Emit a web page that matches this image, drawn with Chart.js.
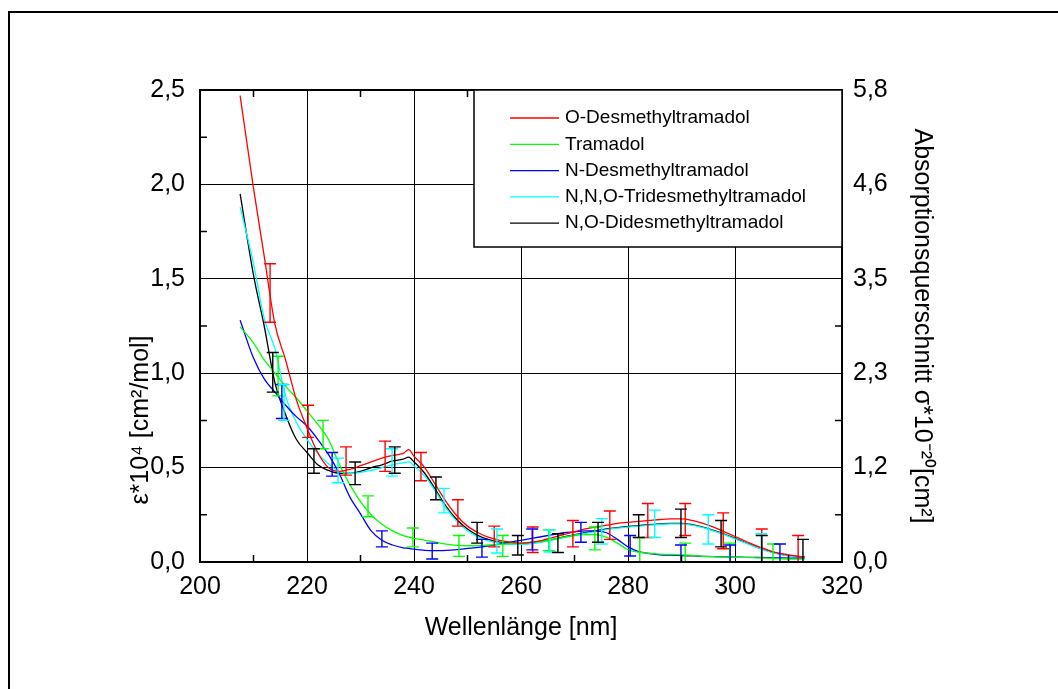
<!DOCTYPE html>
<html>
<head>
<meta charset="utf-8">
<title>UV-Spektren Tramadol</title>
<script src="https://cdn.jsdelivr.net/npm/chart.js@4.4.1/dist/chart.umd.min.js"></script>
<style>
    html, body { margin: 0; padding: 0; background: #fff; }
    #wrap { position: relative; width: 1058px; height: 689px; }
</style>
</head>
<body>
<div id="wrap"><canvas id="uvChart" width="1058" height="689"></canvas></div>
<script>
// wavelength grid [nm]
var wavelengths = [207.5, 210, 212, 214, 216, 218, 220, 222, 224, 226, 228, 230, 232, 234, 236, 238, 239,
    240, 242, 244, 246, 248, 250, 252, 254, 256, 258, 260, 262, 264, 266, 268, 270, 272, 274, 276, 278,
    280, 282, 284, 286, 288, 290, 292, 294, 296, 298, 300, 302, 304, 306, 308, 310, 312, 313];

// epsilon * 10^4 [cm^2/mol]
var oDesmethyl = [2.47, 1.98, 1.62, 1.26, 1.07, 0.86, 0.71, 0.58, 0.50, 0.48, 0.49, 0.51, 0.53, 0.55, 0.565, 0.575, 0.595,
    0.56, 0.50, 0.41, 0.32, 0.245, 0.19, 0.155, 0.13, 0.115, 0.105, 0.10, 0.105, 0.115, 0.13, 0.145, 0.16, 0.175, 0.185, 0.195, 0.205,
    0.21, 0.215, 0.22, 0.225, 0.228, 0.228, 0.22, 0.205, 0.185, 0.16, 0.135, 0.11, 0.085, 0.065, 0.048, 0.038, 0.03, 0.028];
var tramadol = [1.245, 1.16, 1.07, 1.0, 0.93, 0.87, 0.80, 0.73, 0.65, 0.52, 0.41, 0.32, 0.25, 0.20, 0.165, 0.14, 0.132,
    0.125, 0.115, 0.105, 0.095, 0.088, 0.086, 0.087, 0.09, 0.093, 0.097, 0.10, 0.105, 0.11, 0.12, 0.13, 0.14, 0.145, 0.145, 0.13, 0.10,
    0.065, 0.052, 0.046, 0.042, 0.04, 0.038, 0.035, 0.03, 0.028, 0.026, 0.025, 0.024, 0.022, 0.02, 0.018, 0.016, 0.015, 0.015];
var nDesmethyl = [1.28, 1.08, 0.97, 0.90, 0.83, 0.77, 0.72, 0.65, 0.57, 0.47, 0.345, 0.255, 0.165, 0.115, 0.09, 0.075, 0.072,
    0.068, 0.062, 0.06, 0.062, 0.066, 0.072, 0.078, 0.085, 0.095, 0.105, 0.115, 0.125, 0.135, 0.145, 0.155, 0.16, 0.165, 0.165, 0.155, 0.12,
    0.08, 0.055, 0.045, 0.038, 0.036, 0.034, 0.032, 0.03, 0.028, 0.027, 0.026, 0.025, 0.024, 0.023, 0.022, 0.021, 0.02, 0.02];
var triDesmethyl = [1.88, 1.58, 1.29, 1.13, 0.88, 0.74, 0.65, 0.575, 0.52, 0.48, 0.47, 0.475, 0.485, 0.50, 0.515, 0.525, 0.53,
    0.51, 0.455, 0.375, 0.285, 0.215, 0.165, 0.132, 0.112, 0.10, 0.094, 0.093, 0.098, 0.106, 0.117, 0.13, 0.142, 0.152, 0.162, 0.172, 0.179,
    0.185, 0.19, 0.195, 0.199, 0.202, 0.202, 0.195, 0.182, 0.165, 0.145, 0.122, 0.10, 0.078, 0.058, 0.043, 0.033, 0.026, 0.024];
var diDesmethyl = [1.95, 1.52, 1.25, 0.95, 0.78, 0.65, 0.58, 0.515, 0.485, 0.47, 0.47, 0.48, 0.50, 0.515, 0.535, 0.545, 0.555,
    0.53, 0.47, 0.385, 0.295, 0.225, 0.175, 0.14, 0.118, 0.105, 0.097, 0.095, 0.10, 0.108, 0.12, 0.133, 0.145, 0.155, 0.165, 0.175, 0.182,
    0.188, 0.193, 0.198, 0.202, 0.205, 0.205, 0.198, 0.185, 0.168, 0.148, 0.125, 0.102, 0.08, 0.06, 0.045, 0.035, 0.028, 0.026];

// error bars: position [nm], lower and upper end
var errRedX = [213.1, 220.2, 227.3, 234.6, 241.3, 248.2, 255.0, 262.2, 269.7, 276.6, 283.7, 290.7, 297.8, 305.0, 311.8];
var errRedLo = [1.27, 0.66, 0.46, 0.48, 0.43, 0.19, 0.08, 0.05, 0.08, 0.12, 0.13, 0.14, 0.07, 0.0, 0.0];
var errRedHi = [1.58, 0.83, 0.61, 0.64, 0.58, 0.33, 0.19, 0.185, 0.22, 0.27, 0.31, 0.31, 0.26, 0.175, 0.14];

var errGreenX = [214.6, 223.0, 231.4, 239.8, 248.4, 256.6, 265.2, 273.8, 282.2, 290.7, 299.0, 307.1];
var errGreenLo = [0.88, 0.60, 0.24, 0.08, 0.03, 0.03, 0.06, 0.064, 0.0, 0.0, 0.0, 0.0];
var errGreenHi = [1.09, 0.75, 0.35, 0.18, 0.14, 0.14, 0.17, 0.185, 0.13, 0.10, 0.10, 0.095];

var errBlueX = [215.3, 224.7, 234.0, 243.4, 252.7, 262.1, 271.2, 280.4, 289.9, 299.1, 308.4];
var errBlueLo = [0.76, 0.455, 0.08, 0.016, 0.026, 0.064, 0.105, 0.032, 0.0, 0.0, 0.0];
var errBlueHi = [0.94, 0.58, 0.165, 0.10, 0.12, 0.175, 0.21, 0.14, 0.09, 0.09, 0.095];

var errCyanX = [215.7, 225.8, 235.9, 245.6, 255.5, 265.4, 275.1, 285.0, 295.0, 304.9];
var errCyanLo = [0.75, 0.42, 0.455, 0.26, 0.048, 0.053, 0.095, 0.13, 0.095, 0.0];
var errCyanHi = [0.94, 0.55, 0.60, 0.39, 0.175, 0.17, 0.23, 0.275, 0.25, 0.15];

var errBlackX = [213.6, 221.3, 229.0, 236.4, 244.1, 251.8, 259.4, 266.9, 274.4, 282.0, 289.9, 297.4, 305.0, 312.7];
var errBlackLo = [0.90, 0.47, 0.41, 0.47, 0.33, 0.10, 0.037, 0.05, 0.105, 0.13, 0.13, 0.08, 0.0, 0.0];
var errBlackHi = [1.11, 0.60, 0.53, 0.61, 0.45, 0.21, 0.14, 0.15, 0.21, 0.25, 0.28, 0.22, 0.14, 0.12];

var seriesNames = ['O-Desmethyltramadol', 'Tramadol', 'N-Desmethyltramadol', 'N,N,O-Tridesmethyltramadol', 'N,O-Didesmethyltramadol'];
var seriesColors = ['#ff0000', '#00ff00', '#0000ff', '#00ffff', '#000000'];
var rightTickLabels = ['0,0', '1,2', '2,3', '3,5', '4,6', '5,8'];

var FONT = '"Liberation Sans", Arial, sans-serif';

/**
 * Build {x, y} points from the wavelength grid
 *
 * @param array values
 */
function toPoints(values) {
    return values.map(function (v, i) {
        return { x: wavelengths[i], y: v };
    });
}

var errorSets = [
    { color: seriesColors[0], x: errRedX, lo: errRedLo, hi: errRedHi },
    { color: seriesColors[1], x: errGreenX, lo: errGreenLo, hi: errGreenHi },
    { color: seriesColors[2], x: errBlueX, lo: errBlueLo, hi: errBlueHi },
    { color: seriesColors[3], x: errCyanX, lo: errCyanLo, hi: errCyanHi },
    { color: seriesColors[4], x: errBlackX, lo: errBlackLo, hi: errBlackHi }
];

/**
 * Plugin: white page, outer frame, error bars, minor ticks, plot frame, legend box
 */
var decorPlugin = {
    id: 'decor',
    beforeDraw: function (chart) {
        var ctx = chart.ctx;
        ctx.save();
        ctx.fillStyle = '#fff';
        ctx.fillRect(0, 0, chart.width, chart.height);
        ctx.strokeStyle = '#000';
        ctx.lineWidth = 2;
        ctx.beginPath();
        ctx.moveTo(9, chart.height + 2);
        ctx.lineTo(9, 12);
        ctx.lineTo(chart.width + 2, 12);
        ctx.stroke();
        ctx.restore();
    },
    afterDatasetsDraw: function (chart) {
        var ctx = chart.ctx;
        var xs = chart.scales.x, ys = chart.scales.y;
        var area = chart.chartArea;

        // error bars
        ctx.save();
        ctx.lineWidth = 1.4;
        errorSets.forEach(function (set) {
            ctx.strokeStyle = set.color;
            set.x.forEach(function (wl, i) {
                var px = xs.getPixelForValue(wl);
                var top = ys.getPixelForValue(set.hi[i]);
                var bot = ys.getPixelForValue(set.lo[i]);
                ctx.beginPath();
                ctx.moveTo(px, top);
                ctx.lineTo(px, bot);
                ctx.moveTo(px - 6, top);
                ctx.lineTo(px + 6, top);
                if (set.lo[i] > 0) {
                    ctx.moveTo(px - 6, bot);
                    ctx.lineTo(px + 6, bot);
                }
                ctx.stroke();
            });
        });
        ctx.restore();

        // minor ticks on all four sides
        ctx.save();
        ctx.strokeStyle = '#000';
        ctx.lineWidth = 1.5;
        ctx.beginPath();
        for (var wl = 210; wl < 320; wl += 20) {
            var px = xs.getPixelForValue(wl);
            ctx.moveTo(px, area.bottom);
            ctx.lineTo(px, area.bottom - 7);
            ctx.moveTo(px, area.top);
            ctx.lineTo(px, area.top + 7);
        }
        for (var v = 0.25; v < 2.5; v += 0.5) {
            var py = ys.getPixelForValue(v);
            ctx.moveTo(area.left, py);
            ctx.lineTo(area.left + 7, py);
            ctx.moveTo(area.right, py);
            ctx.lineTo(area.right - 7, py);
        }
        ctx.stroke();

        // plot frame
        ctx.lineWidth = 2;
        ctx.strokeRect(area.left, area.top, area.right - area.left, area.bottom - area.top);
        ctx.restore();

        // legend box in the upper right corner
        var bx = area.right - 368, by = area.top, bw = 368, bh = 157;
        ctx.save();
        ctx.fillStyle = '#fff';
        ctx.fillRect(bx, by, bw, bh);
        ctx.strokeStyle = '#000';
        ctx.lineWidth = 1.5;
        ctx.strokeRect(bx, by, bw, bh);
        ctx.font = '19px ' + FONT;
        ctx.textAlign = 'left';
        ctx.textBaseline = 'middle';
        seriesNames.forEach(function (name, i) {
            var ry = by + 28 + i * 26.3;
            ctx.strokeStyle = seriesColors[i];
            ctx.lineWidth = 1.3;
            ctx.beginPath();
            ctx.moveTo(bx + 36, ry);
            ctx.lineTo(bx + 85, ry);
            ctx.stroke();
            ctx.fillStyle = '#000';
            ctx.fillText(name, bx + 91, ry);
        });
        ctx.restore();
    },
    afterDraw: function (chart) {
        // left axis title
        var ctx = chart.ctx;
        ctx.save();
        ctx.translate(141, 420);
        ctx.rotate(-Math.PI / 2);
        ctx.font = '25px ' + FONT;
        ctx.fillStyle = '#000';
        ctx.textAlign = 'center';
        ctx.textBaseline = 'middle';
        ctx.fillText('\u03b5*10\u2074 [cm\u00b2/mol]', 0, 0);
        ctx.restore();
    }
};

/**
 * Function to generate the spectra chart
 *
 * @param string chartElement
 */
function generateSpectraChart(chartElement) {
    var canvas = document.getElementById(chartElement).getContext('2d');
    var allSeries = [oDesmethyl, tramadol, nDesmethyl, triDesmethyl, diDesmethyl];
    var datasets = [];

    allSeries.forEach(function (values, i) {
        datasets.push({
            label: seriesNames[i],
            data: toPoints(values),
            borderColor: seriesColors[i],
            backgroundColor: seriesColors[i],
            borderWidth: 1.3,
            pointRadius: 0,
            cubicInterpolationMode: 'monotone',
            fill: false
        });
    });

    new Chart(canvas, {
        type: 'line',
        data: { datasets: datasets },
        plugins: [decorPlugin],
        options: {
            responsive: false,
            animation: false,
            layout: { padding: { left: 120, right: 115, top: 90, bottom: 43 } },
            plugins: {
                legend: { display: false },
                tooltip: { enabled: false }
            },
            scales: {
                x: {
                    type: 'linear',
                    min: 200,
                    max: 320,
                    afterFit: function (scale) { scale.height = 84; },
                    ticks: {
                        stepSize: 20,
                        padding: 10,
                        color: '#000',
                        font: { size: 25, family: FONT }
                    },
                    grid: { color: '#000', lineWidth: 1, drawTicks: false },
                    border: { color: '#000', width: 2 },
                    title: {
                        display: true,
                        text: 'Wellenlänge [nm]',
                        color: '#000',
                        padding: { top: 0, bottom: 3 },
                        font: { size: 25, family: FONT }
                    }
                },
                y: {
                    type: 'linear',
                    position: 'left',
                    min: 0,
                    max: 2.5,
                    afterFit: function (scale) { scale.width = 80; },
                    ticks: {
                        stepSize: 0.5,
                        padding: 15,
                        color: '#000',
                        font: { size: 25, family: FONT },
                        callback: function (value) { return value.toFixed(1).replace('.', ','); }
                    },
                    grid: { color: '#000', lineWidth: 1, drawTicks: false },
                    border: { color: '#000', width: 2 }
                },
                y2: {
                    type: 'linear',
                    position: 'right',
                    min: 0,
                    max: 2.5,
                    afterFit: function (scale) { scale.width = 101; },
                    ticks: {
                        stepSize: 0.5,
                        padding: 11,
                        color: '#000',
                        font: { size: 25, family: FONT },
                        callback: function (value, index) { return rightTickLabels[index]; }
                    },
                    grid: { display: false, drawTicks: false },
                    border: { color: '#000', width: 1.5 },
                    title: {
                        display: true,
                        text: 'Absorptionsquerschnitt \u03c3*10\u207b\u00b2\u2070[cm\u00b2]',
                        color: '#000',
                        padding: { top: 6, bottom: 0 },
                        font: { size: 25, family: FONT }
                    }
                }
            }
        }
    });
}

generateSpectraChart('uvChart');
</script>
</body>
</html>
